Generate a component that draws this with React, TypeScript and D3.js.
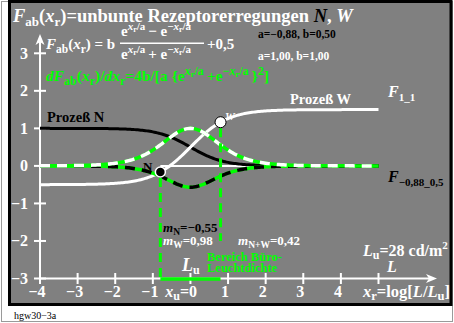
import React from "react";
import * as d3 from "d3";

const WIDTH = 454;
const HEIGHT = 323;

// axis set-up
const xDomain = [-4, 5];
const yDomain = [-3, 3];
const xTickValues = [-4, -3, -2, -1, 0, 1, 2, 3, 4, 5];
const xTickLabels = ["−4", "−3", "−2", "−1", "", "1", "2", "3", "4", ""];
const yTickValues = [-3, -2, -1, 0, 1, 2, 3];
const yTickLabels = ["−3", "−2", "−1", "0", "1", "2", "3"];

// process parameters: [N, W]
const paramA = [-0.88, 1.0];
const paramB = [0.5, 1.0];
const offset = 0.5;

// marker positions on the W curve: [N, W]
const markerX = [-0.8, 0.8];
// office luminance range on the x axis
const rangeX = [-0.8, 0.8];

const GRAY = "#808080";
const GREEN = "#00ff00";
const FONT = "'Liberation Serif', 'Times New Roman', serif";

const F = (x: number, a: number, b: number) => b * Math.tanh(x / a) + offset;
const dF = (x: number, a: number, b: number) => {
  const s = Math.exp(x / a) + Math.exp(-x / a);
  return (4 * b) / (a * s * s);
};

// exponent "x_r/a" with optional leading minus
function Expo({ minus, size, up }: { minus?: boolean; size: number; up: number }) {
  return (
    <>
      {minus ? (
        <>
          <tspan fontSize={size} dy={-up}>−</tspan>
          <tspan fontSize={size} fontStyle="italic">x</tspan>
        </>
      ) : (
        <tspan fontSize={size} dy={-up} fontStyle="italic">x</tspan>
      )}
      <tspan fontSize={size * 0.72} dy={2}>r</tspan>
      <tspan fontSize={size} dy={-2}>/a</tspan>
      <tspan dy={up}>{"\u2009"}</tspan>
    </>
  );
}

export default function App() {
  const x = d3.scaleLinear().domain(xDomain).range([40, 378.5]);
  const y = d3.scaleLinear().domain(yDomain).range([278.5, 53.3]);
  const xs = d3.range(xDomain[0], xDomain[1] + 1e-9, 0.04);
  const line = d3
    .line<[number, number]>()
    .x((d) => x(d[0]))
    .y((d) => y(d[1]));

  const curveN = line(xs.map((v) => [v, F(v, paramA[0], paramB[0])]))!;
  const curveW = line(xs.map((v) => [v, F(v, paramA[1], paramB[1])]))!;
  const derivN = line(xs.map((v) => [v, dF(v, paramA[0], paramB[0])]))!;
  const derivW = line(xs.map((v) => [v, dF(v, paramA[1], paramB[1])]))!;

  const nPt = [markerX[0], F(markerX[0], paramA[1], paramB[1])];
  const wPt = [markerX[1], F(markerX[1], paramA[1], paramB[1])];

  const x0 = x(xDomain[0]);
  const yBase = y(yDomain[0]);
  const xEnd = 437;
  const yTop = 34;

  return (
    <svg
      width={WIDTH}
      height={HEIGHT}
      style={{ position: "absolute", left: 0, top: 0 }}
      fontFamily={FONT}
      fontWeight="bold"
    >
      <rect x={0} y={0} width={WIDTH} height={HEIGHT} fill="#ffffff" />
      <rect x={1.5} y={1.5} width={451} height={320} fill="none" stroke="#9a9a9a" strokeWidth={1} />
      <rect x={9.5} y={1.5} width={441.5} height={303} fill={GRAY} stroke="#000" strokeWidth={3} />

      {/* title */}
      <text x={13} y={22} fontSize={18.5} fill="#fff">
        <tspan fontStyle="italic">F</tspan>
        <tspan fontSize={13} dy={4}>ab</tspan>
        <tspan dy={-4}>(</tspan>
        <tspan fontStyle="italic">x</tspan>
        <tspan fontSize={13} dy={4}>r</tspan>
        <tspan dy={-4}>)=unbunte Rezeptorerregungen </tspan>
        <tspan fontStyle="italic" fill="#000">N</tspan>
        <tspan>, </tspan>
        <tspan fontStyle="italic">W</tspan>
      </text>

      {/* formula */}
      <text x={46} y={49} fontSize={15} fill="#fff">
        <tspan fontStyle="italic">F</tspan>
        <tspan fontSize={11.5} dy={4}>ab</tspan>
        <tspan dy={-4}>(</tspan>
        <tspan fontStyle="italic">x</tspan>
        <tspan fontSize={11.5} dy={4}>r</tspan>
        <tspan dy={-4}>) = b</tspan>
      </text>
      <text x={121} y={35.5} fontSize={15} fill="#fff">
        <tspan>e</tspan>
        <Expo size={11} up={6} />
        <tspan>− e</tspan>
        <Expo minus size={11} up={6} />
      </text>
      <line x1={120} x2={204} y1={43.3} y2={43.3} stroke="#fff" strokeWidth={1.5} />
      <text x={121} y={58.5} fontSize={15} fill="#fff">
        <tspan>e</tspan>
        <Expo size={11} up={6} />
        <tspan>+ e</tspan>
        <Expo minus size={11} up={6} />
      </text>
      <text x={207} y={49} fontSize={15} fill="#fff">+0,5</text>

      <text x={258} y={38} fontSize={11.5} fill="#000">a=−0,88, b=0,50</text>
      <text x={258} y={60} fontSize={11.5} fill="#fff">a=1,00, b=1,00</text>

      {/* derivative formula */}
      <text x={46} y={81} fontSize={15.5} fill={GREEN}>
        <tspan fontStyle="italic">dF</tspan>
        <tspan fontSize={12} dy={4}>ab</tspan>
        <tspan dy={-4}>(</tspan>
        <tspan fontStyle="italic">x</tspan>
        <tspan fontSize={12} dy={4}>r</tspan>
        <tspan dy={-4}>)/</tspan>
        <tspan fontStyle="italic">dx</tspan>
        <tspan fontSize={12} dy={4}>r</tspan>
        <tspan dy={-4}>=4b/[a {"{"}e</tspan>
        <Expo size={12} up={6} />
        <tspan>+e</tspan>
        <Expo minus size={12} up={6} />
        <tspan>{"}"}</tspan>
        <tspan fontSize={12} dy={-6}>2</tspan>
        <tspan dy={6}>]</tspan>
      </text>

      {/* axes */}
      <line x1={x0} x2={xEnd - 6} y1={yBase} y2={yBase} stroke="#fff" strokeWidth={2} />
      <path d={`M${xEnd},${yBase} L${xEnd - 11},${yBase - 4.5} L${xEnd - 8},${yBase} L${xEnd - 11},${yBase + 4.5} Z`} fill="#fff" />
      <line x1={x0} x2={x0} y1={yBase} y2={yTop + 6} stroke="#fff" strokeWidth={2} />
      <path d={`M${x0},${yTop} L${x0 - 4.5},${yTop + 11} L${x0},${yTop + 8} L${x0 + 4.5},${yTop + 11} Z`} fill="#fff" />

      {xTickValues.map((v) => (
        <line key={`xt${v}`} x1={x(v)} x2={x(v)} y1={yBase - 5.5} y2={yBase + 5.5} stroke="#fff" strokeWidth={2} />
      ))}
      {yTickValues.map((v) => (
        <line key={`yt${v}`} x1={x0 - 6} x2={x0 + 6} y1={y(v)} y2={y(v)} stroke="#fff" strokeWidth={2} />
      ))}
      {xTickValues.map((v, i) =>
        xTickLabels[i] ? (
          <text key={`xl${v}`} x={x(v) - 3} y={297} fontSize={16} fill="#fff" textAnchor="middle">
            {xTickLabels[i]}
          </text>
        ) : null
      )}
      {yTickValues.map((v, i) => (
        <text key={`yl${v}`} x={28} y={y(v) + 5.5} fontSize={16} fill="#fff" textAnchor="end">
          {yTickLabels[i]}
        </text>
      ))}
      <text x={197} y={297} fontSize={16} fill="#fff" textAnchor="end">
        <tspan fontStyle="italic">x</tspan>
        <tspan fontSize={12} dy={3}>u</tspan>
        <tspan dy={-3}>=0</tspan>
      </text>
      <text x={363} y={297} fontSize={16.5} fill="#fff">
        <tspan fontStyle="italic">x</tspan>
        <tspan fontSize={12.5} dy={3}>r</tspan>
        <tspan dy={-3}>=log[</tspan>
        <tspan fontStyle="italic">L</tspan>
        <tspan>/</tspan>
        <tspan fontStyle="italic">L</tspan>
        <tspan fontSize={12.5} dy={3}>u</tspan>
        <tspan dy={-3}>]</tspan>
      </text>
      <text x={387} y={272} fontSize={16} fill="#fff" fontStyle="italic">L</text>
      <text x={363} y={256} fontSize={16} fill="#fff">
        <tspan fontStyle="italic">L</tspan>
        <tspan fontSize={12} dy={3}>u</tspan>
        <tspan dy={-3}>=28 cd/m</tspan>
        <tspan fontSize={11} dy={-7}>2</tspan>
      </text>

      {/* zero line */}
      <line x1={x(nPt[0])} x2={x(xDomain[1])} y1={y(0)} y2={y(0)} stroke="#fff" strokeWidth={2} />

      {/* process curves */}
      <path d={curveN} fill="none" stroke="#000" strokeWidth={3} />
      <path d={curveW} fill="none" stroke="#fff" strokeWidth={3} />

      {/* derivative curves */}
      <path d={derivN} fill="none" stroke={GREEN} strokeWidth={3.5} />
      <path d={derivN} fill="none" stroke="#000" strokeWidth={3.5} strokeDasharray="10,7" />
      <path d={derivW} fill="none" stroke={GREEN} strokeWidth={3.5} />
      <path d={derivW} fill="none" stroke="#fff" strokeWidth={3.5} strokeDasharray="10,7" />

      {/* office range */}
      <line x1={x(rangeX[0])} x2={x(rangeX[0])} y1={y(nPt[1]) + 6} y2={yBase} stroke={GREEN} strokeWidth={3} strokeDasharray="9,6" />
      <line x1={x(rangeX[1])} x2={x(rangeX[1])} y1={y(wPt[1]) + 6} y2={y(-2)} stroke={GREEN} strokeWidth={3} strokeDasharray="9,6" />
      <line x1={x(rangeX[0])} x2={x(rangeX[1])} y1={yBase + 0.5} y2={yBase + 0.5} stroke={GREEN} strokeWidth={3.5} />

      {/* markers */}
      <circle cx={x(nPt[0])} cy={y(nPt[1])} r={5} fill="#000" stroke="#fff" strokeWidth={1.5} />
      <circle cx={x(wPt[0])} cy={y(wPt[1])} r={5.5} fill="#fff" stroke="#000" strokeWidth={1} />
      <text x={143} y={171} fontSize={13} fill="#000">N</text>
      <text x={225} y={120} fontSize={11} fill="#fff" fontStyle="italic">W</text>

      {/* curve labels */}
      <text x={47} y={122} fontSize={14.5} fill="#000">Prozeß N</text>
      <text x={290} y={104} fontSize={14.5} fill="#fff">Prozeß W</text>
      <text x={388} y={97} fontSize={16} fill="#fff" fontStyle="italic">
        F<tspan fontSize={11} dy={4} fontStyle="normal">1_1</tspan>
      </text>
      <text x={388} y={182} fontSize={16} fill="#000" fontStyle="italic">
        F<tspan fontSize={11} dy={4} fontStyle="normal">−0,88_0,5</tspan>
      </text>

      {/* slope values */}
      <text x={163} y={232} fontSize={13} fill="#000">
        <tspan fontStyle="italic">m</tspan>
        <tspan fontSize={9.5} dy={3}>N</tspan>
        <tspan dy={-3}>=−0,55</tspan>
      </text>
      <text x={163} y={245} fontSize={13} fill="#fff">
        <tspan fontStyle="italic">m</tspan>
        <tspan fontSize={9.5} dy={3}>W</tspan>
        <tspan dy={-3}>=0,98</tspan>
      </text>
      <text x={238} y={245} fontSize={13} fill="#fff">
        <tspan fontStyle="italic">m</tspan>
        <tspan fontSize={9.5} dy={3}>N+W</tspan>
        <tspan dy={-3}>=0,42</tspan>
      </text>
      <text x={182} y={271} fontSize={18} fill="#fff">
        <tspan fontStyle="italic">L</tspan>
        <tspan fontSize={12} dy={3}>u</tspan>
      </text>
      <text x={207} y={261} fontSize={12.5} fill={GREEN}>Bereich Büro-</text>
      <text x={207} y={272} fontSize={12.5} fill={GREEN}>Leuchtdichte</text>

      <text x={14} y={319} fontSize={10} fontWeight="normal" fill="#000">hgw30−3a</text>
    </svg>
  );
}
